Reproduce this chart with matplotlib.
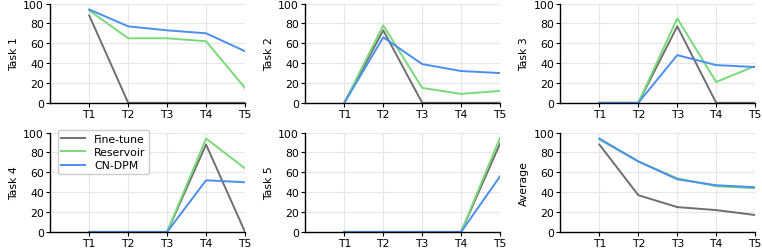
import matplotlib
matplotlib.use("Agg")
import matplotlib.pyplot as plt
import numpy as np

GRAY = "#6f6f6f"
GREEN = "#78da78"
BLUE = "#4a8ff0"

steps = ["T1", "T2", "T3", "T4", "T5"]
panel_names = ["Task 1", "Task 2", "Task 3", "Task 4", "Task 5", "Average"]

# accuracy after each training stage, one row per panel
finetune = [
    [88, 0, 0, 0, 0],
    [0, 73, 0, 0, 0],
    [0, 0, 77, 0, 0],
    [0, 0, 0, 88, 0],
    [0, 0, 0, 0, 89],
    [88, 37, 25, 22, 17],
]
reservoir = [
    [93, 65, 65, 62, 15],
    [0, 78, 15, 9, 12],
    [0, 0, 85, 21, 37],
    [0, 0, 0, 94, 64],
    [0, 0, 0, 0, 95],
    [93, 71, 54, 46, 44],
]
cndpm = [
    [94, 77, 73, 70, 52],
    [0, 66, 39, 32, 30],
    [0, 0, 48, 38, 36],
    [0, 0, 0, 52, 50],
    [0, 0, 0, 0, 56],
    [94, 71, 53, 47, 45],
]

plt.rcParams["font.family"] = "DejaVu Sans"
plt.rcParams["font.size"] = 7.8

fig, axes = plt.subplots(2, 3, figsize=(7.62, 2.51), dpi=100)
fig.subplots_adjust(left=0.066, right=0.991, top=0.982, bottom=0.072,
                    wspace=0.31, hspace=0.3)

x = np.arange(1, 6)
for i, ax in enumerate(axes.flat):
    ax.plot(x, finetune[i], color=GRAY, lw=1.4, label="Fine-tune")
    ax.plot(x, reservoir[i], color=GREEN, lw=1.4, label="Reservoir")
    ax.plot(x, cndpm[i], color=BLUE, lw=1.4, label="CN-DPM")
    ax.set_xlim(0, 5)
    ax.set_ylim(0, 100)
    ax.set_xticks(x)
    ax.set_xticklabels(steps)
    ax.set_yticks([0, 20, 40, 60, 80, 100])
    ax.set_ylabel(panel_names[i], labelpad=3)
    ax.grid(True, color="#e6e6e6", lw=0.8)
    ax.set_axisbelow(True)
    for side in ("top", "right"):
        ax.spines[side].set_visible(False)
    for side in ("left", "bottom"):
        ax.spines[side].set_color("black")
        ax.spines[side].set_linewidth(1.0)
    ax.tick_params(length=3, width=0.8, pad=1.5)

axes[1, 0].legend(loc="upper left", bbox_to_anchor=(0.01, 1.08), fontsize=7.8,
                  frameon=True, handlelength=2.2, borderpad=0.35,
                  labelspacing=0.3, fancybox=True, framealpha=1,
                  edgecolor="#cccccc")

fig.savefig("out.png", dpi=100)
